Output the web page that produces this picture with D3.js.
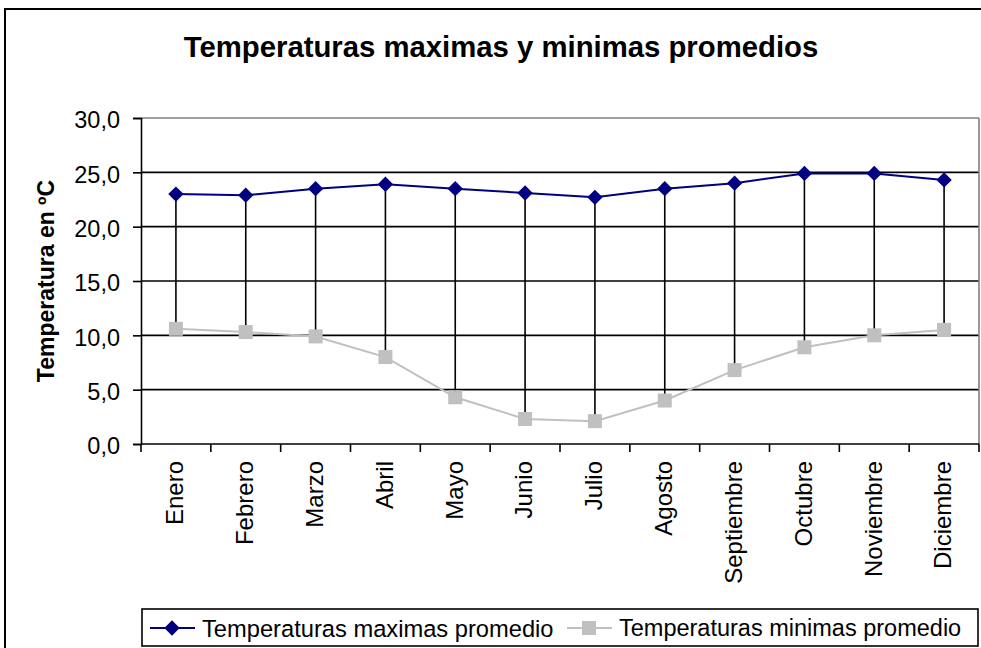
<!DOCTYPE html>
<html>
<head>
<meta charset="utf-8">
<script src="https://cdn.jsdelivr.net/npm/d3@7"></script>
<style>
  body { margin: 0; background: #fff; }
  svg { display: block; font-family: Arial, "Liberation Sans", sans-serif; }
</style>
</head>
<body>
<div id="chart"></div>
<script>
// data
const months = ["Enero", "Febrero", "Marzo", "Abril", "Mayo", "Junio", "Julio",
                "Agosto", "Septiembre", "Octubre", "Noviembre", "Diciembre"];
const maxTemps = [23.0, 22.9, 23.5, 23.9, 23.5, 23.1, 22.7, 23.5, 24.0, 24.9, 24.9, 24.3];
const minTemps = [10.6, 10.3, 9.9, 8.0, 4.3, 2.3, 2.1, 4.0, 6.8, 8.9, 10.0, 10.5];
const yTicks = [0, 5, 10, 15, 20, 25, 30];
const seriesNames = ["Temperaturas maximas promedio", "Temperaturas minimas promedio"];

const width = 981, height = 648;
const plot = { left: 141, right: 979, top: 118, bottom: 444 };

const svg = d3.select("#chart").append("svg")
    .attr("width", width)
    .attr("height", height);

// outer chart border
svg.append("rect")
    .attr("x", 5).attr("y", 9)
    .attr("width", 1000).attr("height", 700)
    .attr("fill", "#fff")
    .attr("stroke", "#000")
    .attr("stroke-width", 2);

const x = d3.scaleBand().domain(months).range([plot.left, plot.right]);
const y = d3.scaleLinear().domain([0, 30]).range([plot.bottom, plot.top]);
const fmt = d => d3.format(".1f")(d).replace(".", ",");

// title
svg.append("text")
    .attr("x", 501).attr("y", 57)
    .attr("text-anchor", "middle")
    .attr("font-size", 29.3)
    .attr("font-weight", "bold")
    .text("Temperaturas maximas y minimas promedios");

// gridlines
svg.append("g")
    .selectAll("line")
    .data(yTicks.filter(d => d > 0))
    .join("line")
    .attr("x1", plot.left).attr("x2", plot.right)
    .attr("y1", d => y(d)).attr("y2", d => y(d))
    .attr("stroke", d => d === 30 ? "#808080" : "#000")
    .attr("stroke-width", 1.6);

// right border of plot area
svg.append("line")
    .attr("x1", plot.right).attr("x2", plot.right)
    .attr("y1", plot.top).attr("y2", plot.bottom)
    .attr("stroke", "#808080")
    .attr("stroke-width", 1.6);

// y axis
const yAxis = svg.append("g")
    .attr("transform", `translate(${plot.left},0)`)
    .call(d3.axisLeft(y).tickValues(yTicks).tickFormat(fmt).tickSize(8).tickPadding(13));
yAxis.select(".domain").attr("stroke-width", 1.6);
yAxis.selectAll(".tick line").attr("stroke-width", 1.6);
yAxis.selectAll(".tick text")
    .attr("font-size", 23.5)
    .attr("font-family", "Arial, 'Liberation Sans', sans-serif")
    .attr("fill", "#000")
    .attr("dy", "0.42em");

// y axis title
svg.append("text")
    .attr("transform", `translate(54,${(plot.top + plot.bottom) / 2}) rotate(-90)`)
    .attr("text-anchor", "middle")
    .attr("font-size", 23)
    .attr("font-weight", "bold")
    .text("Temperatura en ºC");

// x axis line and ticks on category boundaries
svg.append("line")
    .attr("x1", plot.left).attr("x2", plot.right)
    .attr("y1", plot.bottom).attr("y2", plot.bottom)
    .attr("stroke", "#000").attr("stroke-width", 1.6);
svg.append("g")
    .selectAll("line")
    .data(months.concat([null]))
    .join("line")
    .attr("x1", d => d === null ? plot.right : x(d))
    .attr("x2", d => d === null ? plot.right : x(d))
    .attr("y1", plot.bottom).attr("y2", plot.bottom + 8)
    .attr("stroke", "#000").attr("stroke-width", 1.6);

// category labels, rotated
svg.append("g")
    .selectAll("text")
    .data(months)
    .join("text")
    .attr("transform", d => `translate(${x(d) + x.bandwidth() / 2 - 1},${plot.bottom + 17}) rotate(-90)`)
    .attr("text-anchor", "end")
    .attr("dy", "0.35em")
    .attr("font-size", 24)
    .text(d => d);

const cx = d => x(d) + x.bandwidth() / 2;

// high-low lines
svg.append("g")
    .selectAll("line")
    .data(months)
    .join("line")
    .attr("x1", d => cx(d)).attr("x2", d => cx(d))
    .attr("y1", (d, i) => y(maxTemps[i]))
    .attr("y2", (d, i) => y(minTemps[i]))
    .attr("stroke", "#000")
    .attr("stroke-width", 1.6);

// min series
const lineGen = vals => d3.line()
    .x((d, i) => cx(months[i]))
    .y(d => y(d))(vals);

svg.append("path")
    .attr("d", lineGen(minTemps))
    .attr("fill", "none")
    .attr("stroke", "#c0c0c0")
    .attr("stroke-width", 2);
svg.append("g")
    .selectAll("rect")
    .data(minTemps)
    .join("rect")
    .attr("x", (d, i) => cx(months[i]) - 7)
    .attr("y", d => y(d) - 7)
    .attr("width", 14).attr("height", 14)
    .attr("fill", "#c0c0c0");

// max series
svg.append("path")
    .attr("d", lineGen(maxTemps))
    .attr("fill", "none")
    .attr("stroke", "#000080")
    .attr("stroke-width", 2);
const diamond = d3.symbol().type(d3.symbolDiamond2).size(150);
svg.append("g")
    .selectAll("path")
    .data(maxTemps)
    .join("path")
    .attr("transform", (d, i) => `translate(${cx(months[i])},${y(d)})`)
    .attr("d", diamond)
    .attr("fill", "#000080");

// legend
const legend = svg.append("g");
legend.append("rect")
    .attr("x", 142).attr("y", 609)
    .attr("width", 836).attr("height", 37)
    .attr("fill", "#fff")
    .attr("stroke", "#000")
    .attr("stroke-width", 1.6);

const legendItems = [
  { x: 150, color: "#000080", marker: "diamond", name: seriesNames[0], size: 23.7 },
  { x: 567, color: "#c0c0c0", marker: "square", name: seriesNames[1], size: 23.5 }
];
const ly = 628;
legendItems.forEach(item => {
  legend.append("line")
      .attr("x1", item.x).attr("x2", item.x + 45)
      .attr("y1", ly).attr("y2", ly)
      .attr("stroke", item.color).attr("stroke-width", 2);
  if (item.marker === "diamond") {
    legend.append("path")
        .attr("transform", `translate(${item.x + 22},${ly})`)
        .attr("d", diamond)
        .attr("fill", item.color);
  } else {
    legend.append("rect")
        .attr("x", item.x + 22 - 7).attr("y", ly - 7)
        .attr("width", 14).attr("height", 14)
        .attr("fill", item.color);
  }
  legend.append("text")
      .attr("x", item.x + 52).attr("y", ly)
      .attr("dy", "0.36em")
      .attr("font-size", item.size)
      .text(item.name);
});
</script>
</body>
</html>
